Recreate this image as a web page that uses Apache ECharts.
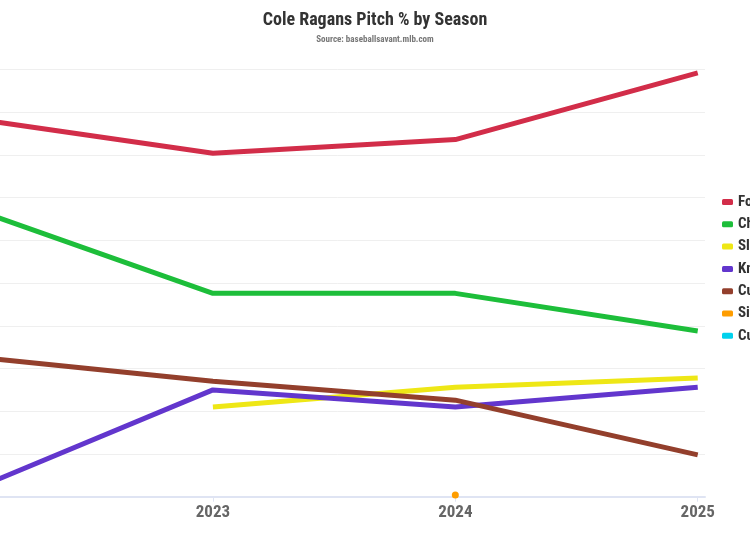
<!DOCTYPE html>
<html><head><meta charset="utf-8">
<script src="https://cdn.jsdelivr.net/npm/echarts@6/dist/echarts.min.js"></script>
<style>html,body{margin:0;padding:0;background:#fff;overflow:hidden;width:750px;height:536px;position:relative}#c{position:absolute;left:-100px;top:0;width:950px;height:536px}</style>
</head><body><div id="c"></div>
<script>
const seasons = [2022, 2023, 2024, 2025];
const tickSeasons = [2023, 2024, 2025];
const pitchNames = ['Four-Seam Fastball', 'Changeup', 'Slider', 'Knuckle Curve', 'Cutter', 'Sinker', 'Curveball'];
const pitchColors = ['#d22d49', '#1dbe3a', '#eee716', '#6236cd', '#933f2c', '#fe9d00', '#00d1ed'];
const fourSeam = [44.3, 40.2, 41.8, 49.6];
const changeup = [33.8, 23.8, 23.8, 19.4];
const slider = [null, 10.5, 12.8, 13.9];
const knuckleCurve = [0.7, 12.5, 10.5, 12.8];
const cutter = [16.4, 13.5, 11.3, 4.9];
const sinker = [null, null, 0.2, null];
const curveball = [4.8, null, null, null];
const pitchValues = [fourSeam, changeup, slider, knuckleCurve, cutter, sinker, curveball];

const FONT = '"Roboto Condensed","Liberation Sans Narrow","DejaVu Sans Condensed",Roboto,sans-serif';
const OFFSET = 100; // chart canvas starts 100px left of the visible window

const chart = echarts.init(document.getElementById('c'), null, {renderer: 'canvas'});
const series = pitchNames.map((name, i) => {
  const data = seasons.map((s, j) => [s, pitchValues[i][j]]);
  const isolated = pitchValues[i].filter(v => v !== null).length === 1;
  return {
    name, type: 'line', data,
    color: pitchColors[i],
    lineStyle: {width: 5, color: pitchColors[i]},
    showSymbol: isolated, symbol: 'circle', symbolSize: 7,
    itemStyle: {color: pitchColors[i]},
    connectNulls: false, silent: true, animation: false
  };
});

chart.setOption({
  animation: false,
  backgroundColor: '#fff',
  title: {
    text: 'Cole Ragans Pitch % by Season',
    subtext: 'Source: baseballsavant.mlb.com',
    left: 'center', top: 6, itemGap: 6,
    textStyle: {fontFamily: FONT, fontWeight: 'bold', fontSize: 18, color: '#333'},
    subtextStyle: {fontFamily: FONT, fontWeight: 'bold', fontSize: 9, color: '#777'}
  },
  legend: {
    orient: 'vertical', left: 717 + OFFSET, top: 189.5, itemGap: 7.3,
    itemWidth: 11, itemHeight: 6, icon: 'roundRect',
    textStyle: {fontFamily: FONT, fontWeight: 'bold', fontSize: 15, color: '#333'},
    data: pitchNames
  },
  grid: {left: OFFSET - 29.5, right: 950 - OFFSET - 705, top: 69.5, bottom: 39.3, containLabel: false},
  xAxis: {
    type: 'value', min: 2022, max: 2025.03, interval: 1,
    axisLine: {show: true, lineStyle: {color: '#dfe4f3', width: 2}},
    axisTick: {show: true, length: 5, lineStyle: {color: '#dfe4f3'}, customValues: tickSeasons},
    axisLabel: {customValues: tickSeasons, margin: 8, fontFamily: FONT, fontWeight: 'bold', fontSize: 17, color: '#666',
      formatter: v => String(v)},
    splitLine: {show: false}
  },
  yAxis: {
    type: 'value', min: 0, max: 50, interval: 5,
    axisLine: {show: false}, axisTick: {show: false},
    axisLabel: {show: false},
    splitLine: {lineStyle: {color: '#efefef', width: 1}}
  },
  series
});
</script></body></html>
